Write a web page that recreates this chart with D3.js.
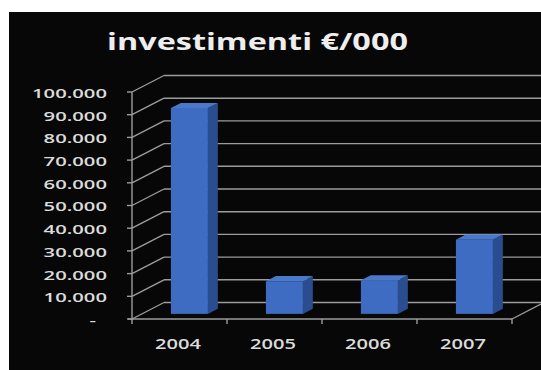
<!DOCTYPE html>
<html>
<head>
<meta charset="utf-8">
<script src="https://cdn.jsdelivr.net/npm/d3@7"></script>
<style>
  html, body { margin: 0; padding: 0; background: #ffffff; }
  svg { display: block; }
</style>
</head>
<body>
<svg id="chart" width="541" height="370"></svg>
<script>
// Chart data
const title = "investimenti €/000";
const years = ["2004", "2005", "2006", "2007"];
const investments = [90700, 14400, 14800, 32700];
const yTicks = [0, 10000, 20000, 30000, 40000, 50000, 60000, 70000, 80000, 90000, 100000];

const W = 541, H = 370;
const svg = d3.select("#chart");

// Panel background
svg.append("rect").attr("x", 9).attr("y", 12).attr("width", W - 9).attr("height", H - 12).attr("fill", "#070707");

// Front plane of the 3D plot
const plot = { left: 132, right: 512, top: 92, bottom: 319 };
const depth = { dx: 32, dy: -16.5 };   // full depth of the walls
const barFront = 0.31, barDepth = 0.31; // bar position inside the depth, in fractions

const x = d3.scaleBand().domain(years).range([plot.left, plot.right]).paddingInner(0).paddingOuter(0);
const y = d3.scaleLinear().domain([0, 100000]).range([plot.bottom, plot.top]);

const gridColor = "#9c9c9c";
const grid = svg.append("g").attr("stroke", gridColor).attr("stroke-width", 1.4).attr("fill", "none");

// Back-wall gridlines and side-wall diagonals
yTicks.forEach(v => {
  const y0 = y(v);
  grid.append("line")
    .attr("x1", plot.left + depth.dx).attr("y1", y0 + depth.dy)
    .attr("x2", W).attr("y2", y0 + depth.dy);
  grid.append("line")
    .attr("x1", plot.left).attr("y1", y0)
    .attr("x2", plot.left + depth.dx).attr("y2", y0 + depth.dy);
});

// Floor right edge
grid.append("line")
  .attr("x1", plot.right).attr("y1", plot.bottom)
  .attr("x2", plot.right + depth.dx).attr("y2", plot.bottom + depth.dy);

// Bars (front, side, top faces)
const barW = 37;
const bars = svg.append("g");
years.forEach((yr, i) => {
  const v = investments[i];
  const cx = x(yr) + x.bandwidth() / 2;
  const ox = barFront * depth.dx, oy = barFront * depth.dy;
  const bx = barDepth * depth.dx, by = barDepth * depth.dy;
  const xl = cx - barW / 2 + ox, xr = cx + barW / 2 + ox;
  const yt = y(v) + oy, yb = y(0) + oy;
  // side face
  bars.append("polygon")
    .attr("points", [[xr, yt], [xr + bx, yt + by], [xr + bx, yb + by], [xr, yb]].map(p => p.join(",")).join(" "))
    .attr("fill", "#2a4d90");
  // top face
  bars.append("polygon")
    .attr("points", [[xl, yt], [xl + bx, yt + by], [xr + bx, yt + by], [xr, yt]].map(p => p.join(",")).join(" "))
    .attr("fill", "#4a78cb");
  // front face
  bars.append("rect")
    .attr("x", xl).attr("y", yt).attr("width", barW).attr("height", yb - yt)
    .attr("fill", "#3d6cc2");
});

// Front axes
const axes = svg.append("g").attr("stroke", gridColor).attr("stroke-width", 1.4);
axes.append("line").attr("x1", plot.left).attr("y1", plot.top).attr("x2", plot.left).attr("y2", plot.bottom);
axes.append("line").attr("x1", plot.left - 4).attr("y1", plot.bottom).attr("x2", plot.right).attr("y2", plot.bottom);
yTicks.forEach(v => {
  axes.append("line").attr("x1", plot.left - 5).attr("x2", plot.left).attr("y1", y(v)).attr("y2", y(v));
});
[...years.map(d => x(d)), plot.right].forEach(px => {
  axes.append("line").attr("x1", px).attr("x2", px).attr("y1", plot.bottom).attr("y2", plot.bottom + 5);
});

// Number format with "." as thousands separator, "-" for zero
const it = d3.formatLocale({ decimal: ",", thousands: ".", grouping: [3], currency: ["€", ""] });
const fmt = v => v === 0 ? "-" : it.format(",")(v);

const font = "'Open Sans', 'DejaVu Sans', sans-serif";
const labelColor = "#dcdcdc";

// Y labels (wide lettering)
const yLab = svg.append("g").attr("font-family", font).attr("font-size", 13).attr("font-weight", 600).attr("fill", labelColor);
const probe = yLab.append("text").text("100.000");
const yStretch = 75 / probe.node().getComputedTextLength();
probe.remove();
yTicks.forEach(v => {
  const t = fmt(v);
  const px = v === 0 ? 96 : 107;
  yLab.append("text")
    .attr("transform", `translate(${px},${y(v) + 1}) scale(${yStretch},1)`)
    .attr("text-anchor", "end")
    .attr("dominant-baseline", "central")
    .text(t);
});

// X labels
const xLab = svg.append("g").attr("font-family", font).attr("font-size", 14.5).attr("font-weight", 600).attr("fill", labelColor);
const probe2 = xLab.append("text").text("2004");
const xStretch = 46 / probe2.node().getComputedTextLength();
probe2.remove();
years.forEach(yr => {
  xLab.append("text")
    .attr("transform", `translate(${x(yr) + x.bandwidth() / 2 - 1.5},${343}) scale(${xStretch},1)`)
    .attr("text-anchor", "middle")
    .attr("dominant-baseline", "central")
    .text(yr);
});

// Title
const tt = svg.append("text")
  .attr("font-family", font).attr("font-size", 24).attr("font-weight", 700).attr("fill", "#eeeeee")
  .attr("text-anchor", "middle")
  .text(title);
const tStretch = 301 / tt.node().getComputedTextLength();
tt.attr("transform", `translate(257.5,50) scale(${tStretch},1)`);
</script>
</body>
</html>
